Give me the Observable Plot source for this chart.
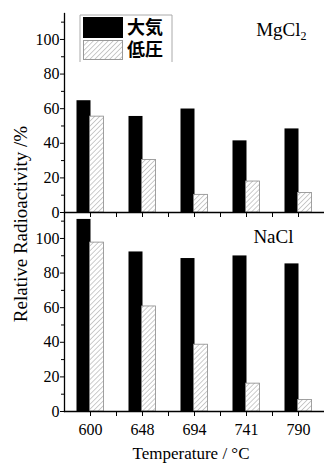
<!DOCTYPE html>
<html><head><meta charset="utf-8">
<script src="https://cdn.jsdelivr.net/npm/d3@7"></script>
<script src="https://cdn.jsdelivr.net/npm/@observablehq/plot@0.6"></script>
<style>
body{margin:0;background:#fff;}
svg text{font-family:"Liberation Serif","Times New Roman",serif;}
svg text.cjk{font-family:"Noto Sans CJK JP",sans-serif;}
</style></head><body><div id="chart"></div>
<script>
const temperatures = ["600","648","694","741","790"];
const salts = ["MgCl2","NaCl"];
const conditions = ["大気","低圧"];
const mgcl2Atm = [64.6, 55.5, 59.8, 41.4, 48.3];
const mgcl2Low = [55.4, 30.4, 10.2, 17.9, 11.3];
const naclAtm = [111.0, 92.2, 88.4, 89.9, 85.3];
const naclLow = [97.6, 60.7, 38.6, 16.1, 6.6];
const yTicks = [0, 20, 40, 60, 80, 100];
const yMinorTicks = [10, 30, 50, 70, 90, 110];
const xTitle = "Temperature / °C";
const yTitle = "Relative Radioactivity /%";

const rows = [];
temperatures.forEach((t, i) => {
  rows.push({salt: "MgCl2", cond: conditions[0], t, v: mgcl2Atm[i]});
  rows.push({salt: "MgCl2", cond: conditions[1], t, v: mgcl2Low[i]});
  rows.push({salt: "NaCl", cond: conditions[0], t, v: naclAtm[i]});
  rows.push({salt: "NaCl", cond: conditions[1], t, v: naclLow[i]});
});

const serif = "Liberation Serif, Times New Roman, serif";

const plot = Plot.plot({
  width: 324, height: 463,
  marginLeft: 64, marginRight: 0, marginTop: 12, marginBottom: 52,
  style: {fontFamily: serif, fontSize: "16px", color: "#000", background: "#fff", overflow: "visible"},
  x: {domain: temperatures, paddingInner: 0.74, paddingOuter: 0.37, align: 0.5, axis: null},
  y: {domain: [0, 115], axis: null},
  fy: {domain: salts, padding: 0, axis: null},
  marks: [
    Plot.barY(rows.filter(d => d.cond === conditions[0]), {fy: "salt", x: "t", y: "v", fill: "#000", dx: -6.5}),
    Plot.barY(rows.filter(d => d.cond === conditions[1]), {fy: "salt", x: "t", y: "v", fill: "url(#hatch)", stroke: "#8a8a8a", strokeWidth: 0.8, dx: 6.5}),
    Plot.frame({anchor: "left", stroke: "#000", strokeWidth: 1.3}),
    Plot.frame({anchor: "bottom", stroke: "#000", strokeWidth: 1.3}),
    Plot.axisY({ticks: yTicks, tickSize: 4, tickPadding: 1, label: null, fontSize: 16}),
    Plot.axisY({ticks: yMinorTicks, tickSize: 3, text: null, label: null}),
    Plot.axisX({tickSize: 5, text: null, label: null, facetAnchor: null}),
    Plot.axisX({ticks: temperatures.slice(0, 4), dx: 26, tickSize: 5, text: null, label: null, facetAnchor: null}),
    Plot.axisX({tickSize: 0, tickPadding: 12, label: null, fontSize: 16}),
    Plot.text(["MgCl2"], {fy: d => d, text: d => d, frameAnchor: "top-right", textAnchor: "end", lineAnchor: "middle", dx: -18, dy: 16, fontSize: 19}),
    Plot.text(["NaCl"], {fy: d => d, text: d => d, frameAnchor: "top-right", textAnchor: "end", lineAnchor: "middle", dx: -31, dy: 24.5, fontSize: 19})
  ]
});

const svg = d3.select(plot);
const defs = svg.insert("defs", ":first-child");
const pat = defs.append("pattern").attr("id", "hatch").attr("patternUnits", "userSpaceOnUse")
  .attr("width", 3.5).attr("height", 3.5).attr("patternTransform", "rotate(45)");
pat.append("rect").attr("width", 3.5).attr("height", 3.5).attr("fill", "#fff");
pat.append("line").attr("x1", 0).attr("y1", 0).attr("x2", 0).attr("y2", 3.5).attr("stroke", "#9a9a9a").attr("stroke-width", 1);

svg.selectAll("text").filter(function() { return this.textContent === "MgCl2"; })
  .each(function() {
    const t = d3.select(this);
    t.text("MgCl");
    t.append("tspan").attr("dy", "0.35em").attr("font-size", "12").text("2");
  });

// legend
const lg = svg.append("g").attr("text-anchor", "start");
lg.append("path").attr("d", "M80,62V15H172V62").attr("fill", "none").attr("stroke", "#aaa");
lg.append("rect").attr("x", 83).attr("y", 17).attr("width", 40).attr("height", 21).attr("fill", "#000");
lg.append("rect").attr("x", 83.5).attr("y", 40.5).attr("width", 39).attr("height", 19).attr("fill", "url(#hatch)").attr("stroke", "#999");
lg.append("text").attr("class", "cjk").attr("x", 127).attr("y", 28).attr("dy", "0.36em").attr("font-size", 18).attr("font-weight", 600).attr("fill", "#000").text(conditions[0]);
lg.append("text").attr("class", "cjk").attr("x", 127).attr("y", 50).attr("dy", "0.36em").attr("font-size", 18).attr("font-weight", 600).attr("fill", "#000").text(conditions[1]);

// axis titles
svg.append("text").attr("transform", "translate(27,224) rotate(-90)").attr("text-anchor", "middle")
  .attr("font-size", 19).attr("fill", "#000").text(yTitle);
svg.append("text").attr("x", 191).attr("y", 459).attr("text-anchor", "middle")
  .attr("font-size", 17).attr("fill", "#000").text(xTitle);

document.getElementById("chart").appendChild(plot);
</script></body></html>
